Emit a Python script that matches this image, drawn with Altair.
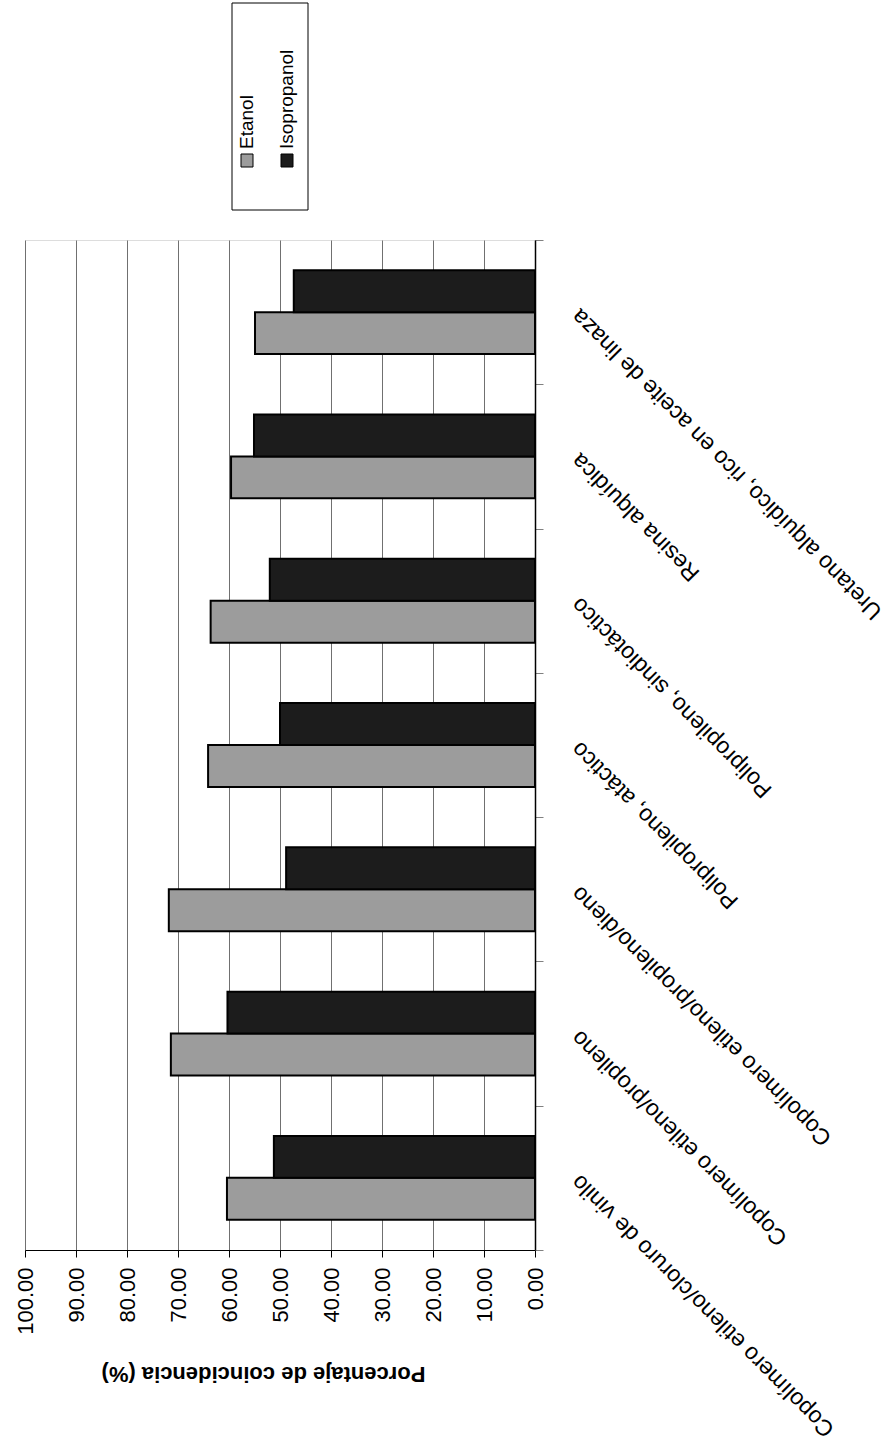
import altair as alt
import pandas as pd

categories = [
    "Uretano alquídico, rico en aceite de linaza",
    "Resina alquídica",
    "Polipropileno, sindiotáctico",
    "Polipropileno, atáctico",
    "Copolímero etileno/propileno/dieno",
    "Copolímero etileno/propileno",
    "Copolímero etileno/cloruro de vinilo",
]
etanol = [54.9, 59.6, 63.6, 64.1, 71.8, 71.4, 60.4]
isopropanol = [47.3, 55.1, 52.0, 50.0, 48.8, 60.3, 51.2]
series = ["Etanol", "Isopropanol"]
ticks = [0, 10, 20, 30, 40, 50, 60, 70, 80, 90, 100]

rows = []
for c, e, i in zip(categories, etanol, isopropanol):
    rows.append({"cat": c, "solvente": "Etanol", "valor": e})
    rows.append({"cat": c, "solvente": "Isopropanol", "valor": i})
df = pd.DataFrame(rows)
leg = pd.DataFrame({"solvente": series})

FONT = "Liberation Sans"

bars = alt.Chart(df).mark_bar(stroke="black", strokeWidth=2).encode(
    y=alt.Y(
        "cat:N",
        sort=categories,
        scale=alt.Scale(paddingInner=0, paddingOuter=0),
        axis=alt.Axis(
            orient="right",
            title=None,
            labelAngle=225,
            labelAlign="right",
            labelBaseline="middle",
            labelFontSize=23,
            labelFont=FONT,
            labelColor="black",
            labelPadding=32,
            labelLimit=1000,
            tickBand="extent",
            tickSize=8,
            tickColor="#808080",
            domainColor="black",
            domainWidth=1.5,
            grid=False,
        ),
    ),
    yOffset=alt.YOffset("solvente:N", sort=["Isopropanol", "Etanol"],
                        scale=alt.Scale(paddingInner=0, paddingOuter=0.72)),
    x=alt.X(
        "valor:Q",
        scale=alt.Scale(domain=[0, 100], reverse=True, nice=False),
        axis=alt.Axis(
            values=ticks,
            format=".2f",
            labelAngle=270,
            labelAlign="right",
            labelBaseline="middle",
            labelFontSize=22,
            labelFont=FONT,
            labelColor="black",
            labelPadding=10,
            tickSize=7,
            tickColor="black",
            domainColor="black",
            domainWidth=1.2,
            grid=True,
            gridColor="#707070",
            gridWidth=1,
            title="Porcentaje de coincidencia (%)",
            titleAngle=180,
            titleFontSize=22,
            titleFont=FONT,
            titleFontWeight="bold",
            titleColor="black",
            titleX=238,
            titleY=123,
            titleAlign="center",
            titleBaseline="middle",
        ),
    ),
    fill=alt.Fill("solvente:N",
                  scale=alt.Scale(domain=series, range=["#9c9c9c", "#1c1c1c"]),
                  legend=None),
)

box = alt.Chart(leg).transform_filter(alt.datum.solvente == "Etanol").mark_rect(
    fill="white", stroke="black", strokeWidth=1
).encode(
    x=alt.value(207), x2=alt.value(283), y=alt.value(-237), y2=alt.value(-30)
)

def legend_item(name, xc):
    sw = alt.Chart(leg).transform_filter(alt.datum.solvente == name).mark_rect(
        stroke="black", strokeWidth=1
    ).encode(
        x=alt.value(xc - 6), x2=alt.value(xc + 6),
        y=alt.value(-86), y2=alt.value(-73),
        fill=alt.Fill("solvente:N",
                      scale=alt.Scale(domain=series, range=["#9c9c9c", "#1c1c1c"]),
                      legend=None),
    )
    tx = alt.Chart(leg).transform_filter(alt.datum.solvente == name).mark_text(
        angle=270, align="left", baseline="middle", fontSize=19, font=FONT, color="black"
    ).encode(
        x=alt.value(xc), y=alt.value(-91), text="solvente:N"
    )
    return sw + tx

chart = alt.layer(
    bars, box, legend_item("Etanol", 222), legend_item("Isopropanol", 262)
).properties(
    width=510,
    height=1010,
    padding={"left": 25, "top": 240, "right": 361, "bottom": 192},
    autosize=alt.AutoSizeParams(type="none"),
).configure_view(
    stroke="#808080", strokeWidth=1
).configure(
    font=FONT, background="white"
)

chart.save("out.html", embed_options={"renderer": "svg", "actions": False})
